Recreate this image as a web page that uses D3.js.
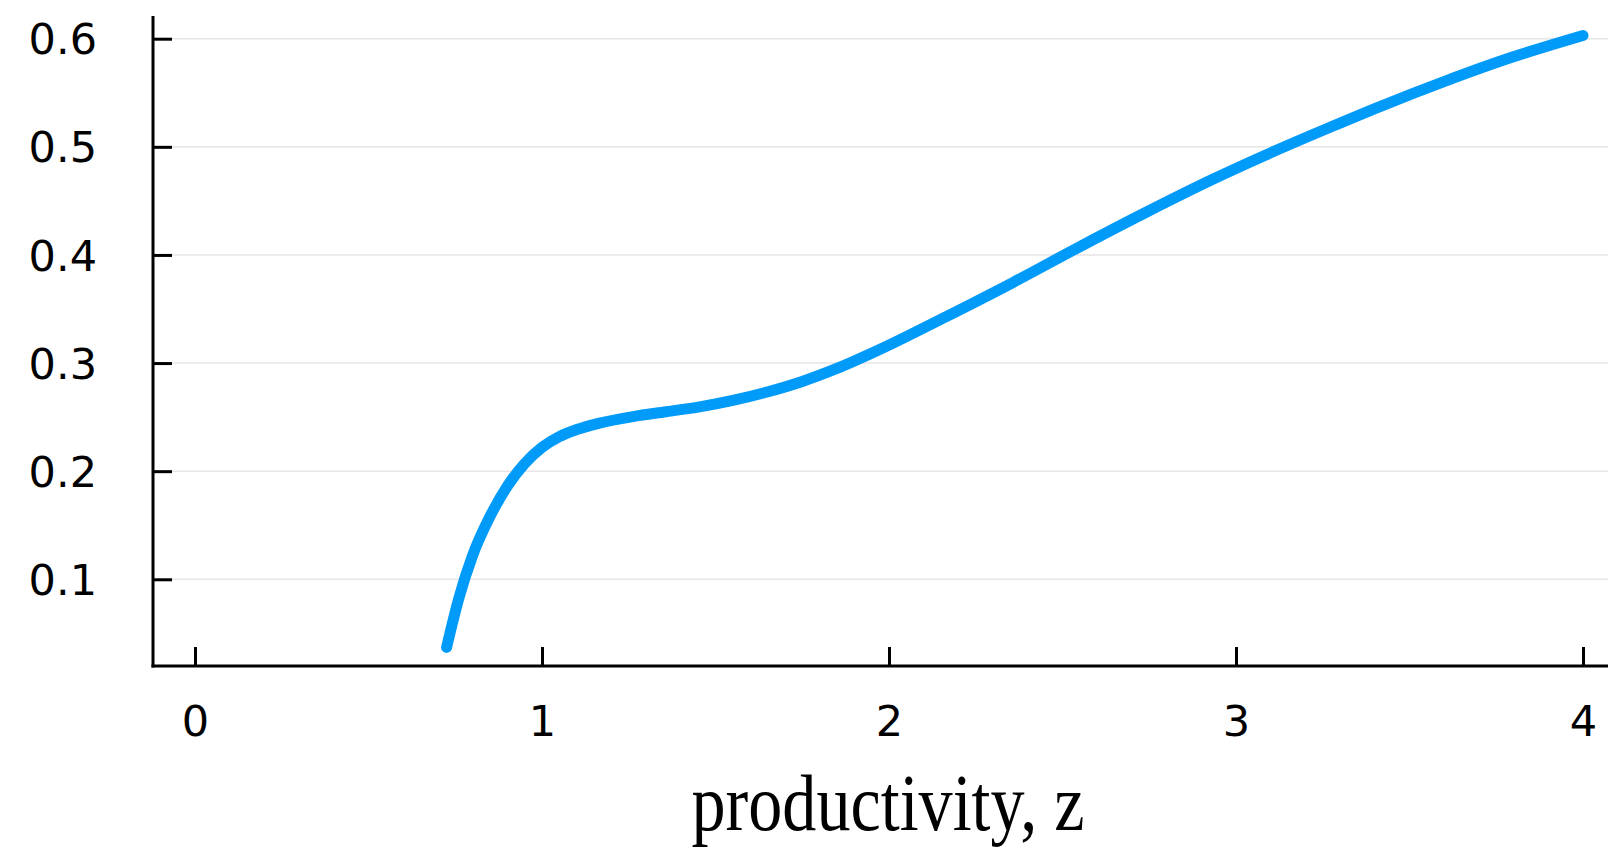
<!DOCTYPE html>
<html>
<head>
<meta charset="utf-8">
<script src="https://d3js.org/d3.v7.min.js"></script>
<style>
  body { margin: 0; background: #fff; }
  .tick text { font-family: "DejaVu Sans", sans-serif; }
</style>
</head>
<body>
<script>
// curve
var zVals = [0.725, 0.76, 0.80, 0.85, 0.90, 0.95, 1.00, 1.05, 1.10, 1.166, 1.262, 1.358, 1.454, 1.55, 1.646, 1.75, 1.85, 1.973, 2.165, 2.357, 2.549, 2.741, 2.933, 3.086, 3.278, 3.413, 3.605, 3.797, 4.0];
var yVals = [0.037, 0.082, 0.122, 0.158, 0.186, 0.207, 0.222, 0.232, 0.2385, 0.2445, 0.2505, 0.255, 0.2595, 0.2655, 0.273, 0.283, 0.295, 0.3125, 0.343, 0.3745, 0.4075, 0.4395, 0.470, 0.4925, 0.519, 0.537, 0.561, 0.583, 0.603];
var xTicks = [0, 1, 2, 3, 4];
var yTicks = [0.1, 0.2, 0.3, 0.4, 0.5, 0.6];
var xLabel = "productivity, z";

var w = 1608, h = 847;
var plotLeft = 153, plotRight = 1608, plotTop = 16, plotBottom = 666;

var svg = d3.select("body").append("svg")
  .attr("width", w)
  .attr("height", h);

var xScale = d3.scaleLinear()
  .domain([-0.121, 4.072])
  .range([plotLeft, plotRight]);

var yScale = d3.scaleLinear()
  .domain([0.0198, 0.621])
  .range([plotBottom, plotTop]);

// grid
svg.append("g")
  .selectAll("line")
  .data(yTicks)
  .enter()
  .append("line")
  .attr("x1", plotLeft)
  .attr("x2", plotRight)
  .attr("y1", d => yScale(d))
  .attr("y2", d => yScale(d))
  .attr("stroke", "#e6e6e6")
  .attr("stroke-width", 1.5);

var xAxis = d3.axisTop(xScale).tickValues(xTicks).tickSize(19).tickPadding(0).tickFormat(d3.format("d"));
var yAxis = d3.axisRight(yScale).tickValues(yTicks).tickSize(19).tickPadding(0).tickFormat(d3.format(".1f"));

var gx = svg.append("g")
  .attr("transform", "translate(0," + plotBottom + ")")
  .call(xAxis);
gx.select(".domain").remove();
gx.selectAll(".tick line").attr("stroke", "#000").attr("stroke-width", 3);
gx.selectAll(".tick text")
  .attr("y", 55)
  .attr("dy", "0.35em")
  .attr("text-anchor", "middle")
  .attr("font-size", 43)
  .attr("fill", "#000");

var gy = svg.append("g")
  .attr("transform", "translate(" + plotLeft + ",0)")
  .call(yAxis);
gy.select(".domain").remove();
gy.selectAll(".tick line").attr("stroke", "#000").attr("stroke-width", 3);
gy.selectAll(".tick text")
  .attr("x", -56)
  .attr("dy", "0.35em")
  .attr("text-anchor", "end")
  .attr("font-size", 43)
  .attr("fill", "#000");

// axis frame lines
svg.append("line")
  .attr("x1", plotLeft).attr("x2", plotLeft)
  .attr("y1", plotTop).attr("y2", plotBottom + 1.5)
  .attr("stroke", "#000").attr("stroke-width", 3);
svg.append("line")
  .attr("x1", plotLeft - 1.5).attr("x2", plotRight)
  .attr("y1", plotBottom).attr("y2", plotBottom)
  .attr("stroke", "#000").attr("stroke-width", 3);

var line = d3.line()
  .x(function(d, i) { return xScale(zVals[i]); })
  .y(function(d) { return yScale(d); })
  .curve(d3.curveMonotoneX);

svg.append("path")
  .datum(yVals)
  .attr("d", line)
  .attr("fill", "none")
  .attr("stroke", "#009af9")
  .attr("stroke-width", 11)
  .attr("stroke-linecap", "round")
  .attr("stroke-linejoin", "round");

svg.append("text")
  .attr("x", 888)
  .attr("y", 830)
  .attr("text-anchor", "middle")
  .attr("font-family", "Liberation Serif, serif")
  .attr("font-size", 80)
  .attr("textLength", 393)
  .attr("lengthAdjust", "spacingAndGlyphs")
  .text(xLabel);
</script>
</body>
</html>
